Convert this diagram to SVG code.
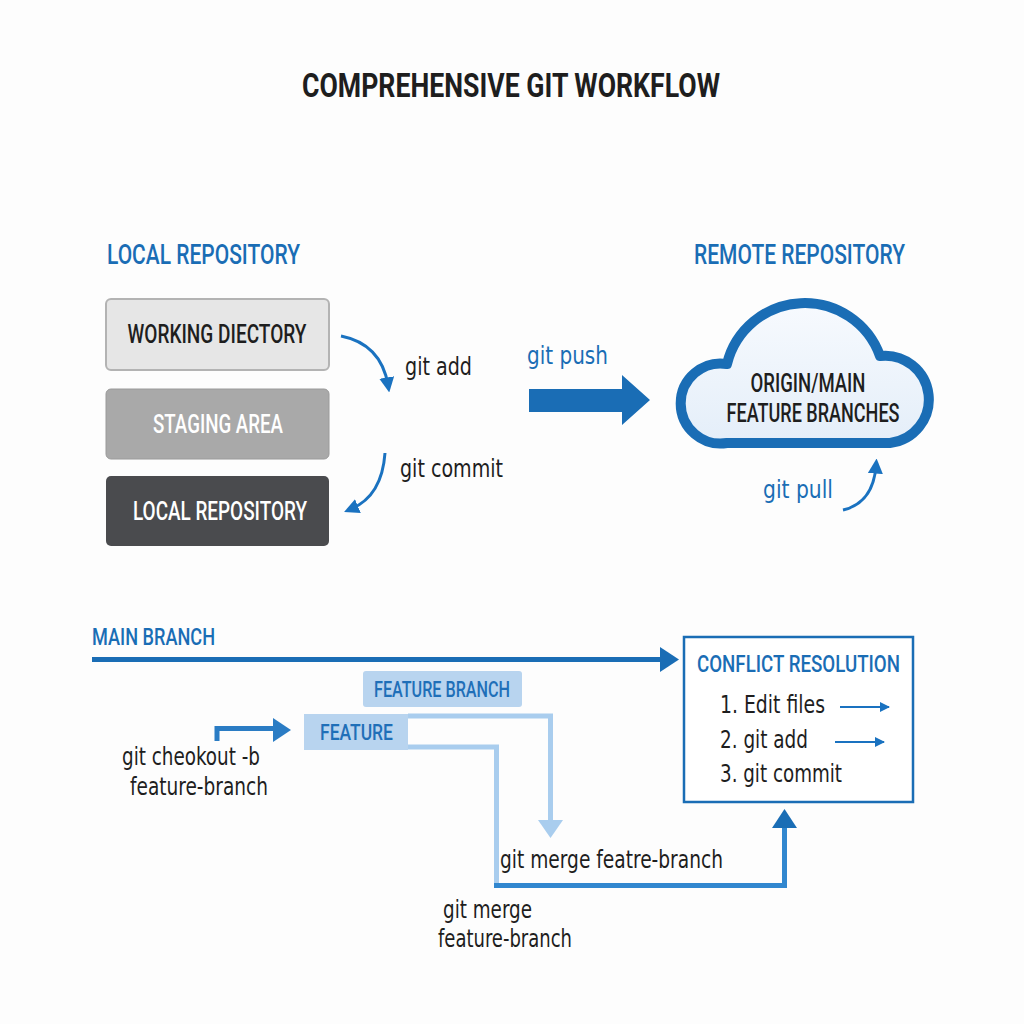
<svg xmlns="http://www.w3.org/2000/svg" width="1024" height="1024" viewBox="0 0 1024 1024">
<defs>
<style>
text{font-family:"DejaVu Sans Condensed","Liberation Sans Narrow","Roboto","Liberation Sans",sans-serif;}
.title{font-family:"Roboto","Liberation Sans",sans-serif;font-size:34px;font-weight:bold;fill:#1e1e1e;}
.head{font-family:"Roboto","Liberation Sans",sans-serif;font-size:28px;font-weight:500;fill:#1a6db5;}
.boxt{font-family:"Roboto","Liberation Sans",sans-serif;font-size:25px;font-weight:500;text-anchor:middle;}
.body{font-size:24px;fill:#1e1e1e;}
.blue{fill:#1a6db5;}
.med{font-family:"Roboto","Liberation Sans",sans-serif;font-weight:500;}
.feat{font-family:"Roboto","Liberation Sans",sans-serif;font-weight:500;font-size:22px;fill:#1f6fb8;}
.curve{fill:none;stroke:#1a72c0;stroke-width:3;}
</style>
<marker id="ah" viewBox="0 0 10 10" refX="5" refY="5" markerWidth="5" markerHeight="5" orient="auto" markerUnits="strokeWidth">
<path d="M0,0 L10,5 L0,10 Z" fill="#1a72c0"/>
</marker>
<marker id="ahs" viewBox="0 0 10 10" refX="9" refY="5" markerWidth="7" markerHeight="5" orient="auto" markerUnits="strokeWidth">
<path d="M0,0 L10,5 L0,10 Z" fill="#1a72c0"/>
</marker>
<linearGradient id="cg" x1="0" y1="0" x2="0" y2="1">
<stop offset="0" stop-color="#f7fafe"/>
<stop offset="1" stop-color="#e4eef9"/>
</linearGradient>
</defs>
<rect width="1024" height="1024" fill="#fdfdfd"/>

<text class="title" x="511" y="97" text-anchor="middle" textLength="418" lengthAdjust="spacingAndGlyphs">COMPREHENSIVE GIT WORKFLOW</text>

<text class="head" x="107" y="264" textLength="193" lengthAdjust="spacingAndGlyphs">LOCAL REPOSITORY</text>
<text class="head" x="694" y="264" textLength="211" lengthAdjust="spacingAndGlyphs">REMOTE REPOSITORY</text>

<g id="working-directory">
<rect x="106" y="299" width="223" height="71" rx="5" fill="#e6e6e6" stroke="#b3b3b3" stroke-width="2"/>
<text class="boxt" x="217" y="343" fill="#1e1e1e" textLength="179" lengthAdjust="spacingAndGlyphs">WORKING DIECTORY</text>
</g>
<g id="staging-area">
<rect x="106" y="389" width="223" height="70" rx="5" fill="#a9a9a9" stroke="#9a9a9a" stroke-width="1"/>
<text class="boxt" x="218" y="433" fill="#ffffff" textLength="130" lengthAdjust="spacingAndGlyphs">STAGING AREA</text>
</g>
<g id="local-repository">
<rect x="106" y="476" width="223" height="70" rx="5" fill="#4a4b4e"/>
<text class="boxt" x="220" y="520" fill="#ffffff" textLength="174" lengthAdjust="spacingAndGlyphs">LOCAL REPOSITORY</text>
</g>

<g id="remote-cloud">
<path d="M727 443 L890 443 A43 43 0 1 0 880 356 A80 80 0 0 0 727 364 A40 40 0 1 0 727 443 Z" fill="url(#cg)" stroke="#1a6db5" stroke-width="10" stroke-linejoin="round"/>
<text class="boxt" x="808" y="392" fill="#1e1e1e" font-size="24" textLength="115" lengthAdjust="spacingAndGlyphs">ORIGIN/MAIN</text>
<text class="boxt" x="813" y="422" fill="#1e1e1e" font-size="24" textLength="173" lengthAdjust="spacingAndGlyphs">FEATURE BRANCHES</text>
</g>

<g id="conflict-resolution">
<rect x="684" y="637" width="229" height="165" fill="#ffffff" stroke="#1a6db5" stroke-width="2.5"/>
<text class="blue med" x="697" y="672" font-size="24" textLength="203" lengthAdjust="spacingAndGlyphs">CONFLICT RESOLUTION</text>
<text class="body" x="720" y="713" textLength="105" lengthAdjust="spacingAndGlyphs">1. Edit files</text>
<text class="body" x="720" y="748" textLength="88" lengthAdjust="spacingAndGlyphs">2. git add</text>
<text class="body" x="720" y="782" textLength="122" lengthAdjust="spacingAndGlyphs">3. git commit</text>
</g>

<g id="feature-branch">
<rect x="363" y="671" width="159" height="36" rx="3" fill="#b8d4ef"/>
<text class="feat" x="374" y="697" textLength="136" lengthAdjust="spacingAndGlyphs">FEATURE BRANCH</text>
</g>
<g id="feature">
<rect x="304" y="714" width="104" height="36" fill="#b8d4ef"/>
<text class="feat" x="320" y="740" textLength="73" lengthAdjust="spacingAndGlyphs">FEATURE</text>
</g>

<g id="connectors">
<path class="curve" d="M341 336 Q381 344 388 385" marker-end="url(#ah)"/>
<path class="curve" d="M385 453 Q382 496 351 509" marker-end="url(#ah)"/>
<path d="M529 389 L622 389 L622 375 L650 400 L622 425 L622 412 L529 412 Z" fill="#1a6db5"/>
<path class="curve" d="M843 510 Q873 503 876 466" marker-end="url(#ah)"/>

<line x1="92" y1="659.5" x2="662" y2="659.5" stroke="#1a6db5" stroke-width="5"/>
<path d="M660 647 L679 659.5 L660 672 Z" fill="#1a6db5"/>

<path d="M217 741 L217 728.5 L275 728.5" fill="none" stroke="#2a7cc4" stroke-width="5"/>
<path d="M273 718 L291 730 L273 742 Z" fill="#2a7cc4"/>

<path d="M408 716 L550.5 716 L550.5 822" fill="none" stroke="#a9cdee" stroke-width="5"/>
<path d="M538 820 L563 820 L550.5 838 Z" fill="#a9cdee"/>

<path d="M408 747 L496.5 747 L496.5 885.5" fill="none" stroke="#a9cdee" stroke-width="5"/>
<path d="M494 885.5 L784.5 885.5 L784.5 826" fill="none" stroke="#3187cf" stroke-width="5"/>
<path d="M772 828 L784.5 809 L797 828 Z" fill="#1a6db5"/>

<line x1="840" y1="707" x2="889" y2="707" stroke="#1a72c0" stroke-width="2" marker-end="url(#ahs)"/>
<line x1="835" y1="742" x2="884" y2="742" stroke="#1a72c0" stroke-width="2" marker-end="url(#ahs)"/>
</g>

<text class="body" x="405" y="375" textLength="67" lengthAdjust="spacingAndGlyphs">git add</text>
<text class="body" x="400" y="477" textLength="103" lengthAdjust="spacingAndGlyphs">git commit</text>
<text class="blue" x="527" y="364" font-size="24" textLength="81" lengthAdjust="spacingAndGlyphs">git push</text>
<text class="blue" x="763" y="498" font-size="24" textLength="70" lengthAdjust="spacingAndGlyphs">git pull</text>

<text class="blue med" x="92" y="645" font-size="23" textLength="123" lengthAdjust="spacingAndGlyphs">MAIN BRANCH</text>
<text class="body" x="122" y="765" textLength="138" lengthAdjust="spacingAndGlyphs">git cheokout -b</text>
<text class="body" x="130" y="795" textLength="138" lengthAdjust="spacingAndGlyphs">feature-branch</text>
<text class="body" x="500" y="868" textLength="223" lengthAdjust="spacingAndGlyphs">git merge featre-branch</text>
<text class="body" x="443" y="918" textLength="89" lengthAdjust="spacingAndGlyphs">git merge</text>
<text class="body" x="438" y="947" textLength="134" lengthAdjust="spacingAndGlyphs">feature-branch</text>
</svg>
